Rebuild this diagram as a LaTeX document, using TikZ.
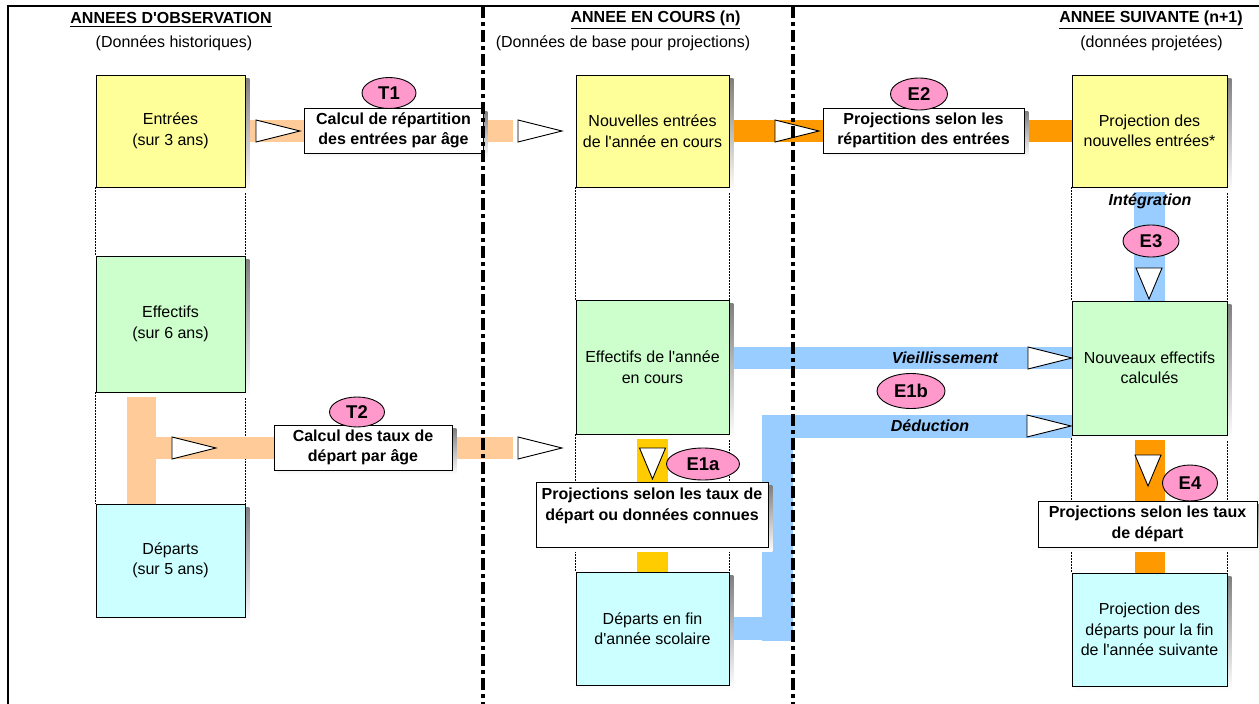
\documentclass[tikz,border=0pt]{standalone}
\usepackage{fontspec}
\setmainfont{Liberation Sans}
\usetikzlibrary{shapes.geometric}
\definecolor{boxyellow}{HTML}{FFFF99}
\definecolor{boxgreen}{HTML}{CCFFCC}
\definecolor{boxcyan}{HTML}{CCFFFF}
\definecolor{tagpink}{HTML}{FF99CC}
\definecolor{bandpeach}{HTML}{FFCC99}
\definecolor{bandorange}{HTML}{FF9900}
\definecolor{bandgold}{HTML}{FFCC00}
\definecolor{bandblue}{HTML}{99CCFF}
\definecolor{shade}{HTML}{808080}
\pgfdeclarelayer{bands}
\pgfdeclarelayer{shades}
\pgfsetlayers{bands,shades,main}
% straight apostrophe, bypassing the TeX quote mapping
\newcommand{\ap}{\XeTeXglyph\XeTeXcharglyph"0027\relax}
% heading with a thick underline
\newcommand{\hdrline}[1]{\vtop{\hbox{#1}\kern1.8pt\hrule height 1.6pt}}
\begin{document}
\begin{tikzpicture}[x=1pt,y=-1pt,
  databox/.style={draw=black, line width=0.9pt, align=center, inner sep=0pt,
    font=\fontsize{16}{20.5}\selectfont},
  procbox/.style={draw=black, fill=white, line width=0.9pt, align=center, inner sep=0pt,
    font=\bfseries\fontsize{16}{20.5}\selectfont},
  tag/.style={ellipse, draw=black, fill=tagpink, line width=0.9pt, inner sep=0pt,
    font=\bfseries\fontsize{18.5}{20}\selectfont},
  guide/.style={line width=1pt, dash pattern=on 1.5pt off 1.5pt},
  band/.style={line width=22pt},
  arrowtip/.style={draw=black, fill=white, line width=0.9pt, line join=miter},
  sep/.style={line width=3.5pt, dash pattern=on 12pt off 4pt on 4pt off 4pt},
  flowlabel/.style={font=\bfseries\itshape\fontsize{16}{20}\selectfont, inner sep=0pt},
  header/.style={font=\bfseries\fontsize{16}{20}\selectfont, inner sep=0pt},
  subhead/.style={font=\fontsize{16}{20}\selectfont, inner sep=0pt},
  rtri/.pic={\path[arrowtip] (0,-11) -- (44,0) -- (0,11) -- cycle;},
  dtri/.pic={\path[arrowtip] (-13,0) -- (13,0) -- (0,31) -- cycle;}
]
\useasboundingbox (0,0) rectangle (1259,704);

% frame
\draw[line width=2pt] (8,704) -- (8,6) -- (1259,6);

% column headings
\node[header] (hdA) at (171,20) {\hdrline{ANNEES D\ap OBSERVATION}};
\node[subhead] (subA) at (174,43) {(Données historiques)};
\node[header] (hdB) at (655.5,20) {\hdrline{ANNEE EN COURS (n)}};
\node[subhead] (subB) at (623,43) {(Données de base pour projections)};
\node[header] (hdC) at (1151,20) {\hdrline{ANNEE SUIVANTE (n+1)}};
\node[subhead] (subC) at (1151.5,43) {(données projetées)};

% data boxes
\node[databox, fill=boxyellow, minimum width=149pt, minimum height=112pt] (entH) at (170.5,131) {Entrées\\(sur 3 ans)};
\node[databox, fill=boxgreen, minimum width=149pt, minimum height=136pt] (effH) at (170.5,324) {Effectifs\\(sur 6 ans)};
\node[databox, fill=boxcyan, minimum width=149pt, minimum height=113pt] (depH) at (170.5,560.5) {Départs\\(sur 5 ans)};
\node[databox, fill=boxyellow, minimum width=153pt, minimum height=112pt] (entN) at (652.5,131) {Nouvelles entrées\\de l\ap année en cours};
\node[databox, fill=boxgreen, minimum width=153pt, minimum height=134pt] (effN) at (652.5,367) {Effectifs de l\ap année\\en cours};
\node[databox, fill=boxcyan, minimum width=153pt, minimum height=113pt] (depN) at (652.5,628.5) {Départs en fin\\d\ap année scolaire};
\node[databox, fill=boxyellow, minimum width=155pt, minimum height=112pt] (entP) at (1149.5,131) {Projection des\\nouvelles entrées*};
\node[databox, fill=boxgreen, minimum width=155pt, minimum height=134pt] (effP) at (1149.5,368) {Nouveaux effectifs\\calculés};
\node[databox, fill=boxcyan, minimum width=155pt, minimum height=113pt] (depP) at (1149.5,629.5) {Projection des\\départs pour la fin\\de l\ap année suivante};

% free ends of the flows
\coordinate (t1end) at (513,131);
\coordinate (t2knee) at (127,448);
\coordinate (t2end) at (513,448);
\coordinate (dedKnee) at (777.5,426);

\begin{pgfonlayer}{bands}
  % dotted column guides
  \foreach \a/\b in {entH/effH, effH/depH, entN/effN, effN/depN, entP/effP, effP/depP}{
    \draw[guide] (\a.south west) -- (\b.north west);
    \draw[guide] (\a.south east) -- (\b.north east);
  }
  % T1 and E2
  \draw[band, bandpeach] (entH.east) -- (t1end);
  \draw[band, bandorange] (entN.east) -- (entP.west);
  % T2
  \draw[band, bandpeach, line width=29pt] ([xshift=-29pt]effH.south) -- ([xshift=-29pt]depH.north);
  \draw[band, bandpeach] (t2knee) -- (t2end);
  % E3, E1a, E4
  \draw[band, bandblue, line width=31pt] (entP.south) -- (effP.north);
  \draw[band, bandgold, line width=31pt] (effN.south) -- (depN.north);
  \draw[band, bandorange, line width=30pt] (effP.south) -- (depP.north);
  % E1b: ageing and deduction
  \draw[band, bandblue] ([yshift=9pt]effN.east) -- ([yshift=10pt]effP.west);
  \draw[band, bandblue, line width=23pt] (depN.east) -| (dedKnee) -- ([yshift=-58pt]effP.west);
  \fill[bandblue] (762,415) rectangle (793,641);
\end{pgfonlayer}

% arrow heads
\pic at (256,131) {rtri};
\pic at (518,131) {rtri};
\pic at (775,131) {rtri};
\pic at (172,448) {rtri};
\pic at (518,448) {rtri};
\pic at (1028,358) {rtri};
\pic at (1027,426) {rtri};
\pic at (1149,268) {dtri};
\pic at (652.5,448) {dtri};
\pic at (1148,455) {dtri};

% flow labels
\node[flowlabel] (lblInt) at (1150,201) {Intégration};
\node[flowlabel] (lblVie) at (945,358) {Vieillissement};
\node[flowlabel] (lblDed) at (930,426) {Déduction};

% process boxes
\node[procbox, minimum width=179pt, minimum height=45pt] (t1box) at (393.5,130.5) {Calcul de répartition\\des entrées par âge};
\node[procbox, minimum width=201pt, minimum height=45pt] (e2box) at (923.5,130.5) {Projections selon les\\répartition des entrées};
\node[procbox, minimum width=178pt, minimum height=45pt] (t2box) at (363,447.5) {Calcul des taux de\\départ par âge};
\node[procbox, minimum width=232pt, minimum height=65pt] (e1abox) at (652,514.5) {Projections selon les taux de\\départ ou données connues\\\mbox{}};
\node[procbox, minimum width=219pt, minimum height=46pt] (e4box) at (1147.5,524) {Projections selon les taux\\de départ};

% drop shadows of all boxes, offset 4 right and 4 down
\begin{pgfonlayer}{shades}
  \foreach \n in {entH,effH,depH,entN,effN,depN,entP,effP,depP,t1box,e2box,t2box,e1abox,e4box}{
    \fill[shade] ([shift={(4,4)}]\n.south west) rectangle ([shift={(4,4)}]\n.north east);
  }
\end{pgfonlayer}

% step tags
\node[tag, minimum width=54pt, minimum height=31pt] (tagT1) at (389,93) {T1};
\node[tag, minimum width=57pt, minimum height=32pt] (tagE2) at (919,94) {E2};
\node[tag, minimum width=55pt, minimum height=30pt] (tagT2) at (357,412) {T2};
\node[tag, minimum width=56pt, minimum height=32pt] (tagE3) at (1151,241) {E3};
\node[tag, minimum width=68pt, minimum height=35pt] (tagE1b) at (911,391) {E1b};
\node[tag, minimum width=73pt, minimum height=32pt] (tagE1a) at (703,464) {E1a};
\node[tag, minimum width=55pt, minimum height=36pt] (tagE4) at (1190,483) {E4};

% period separators
\draw[sep] (483,6) -- (483,704);
\draw[sep] (793,6) -- (793,704);
\end{tikzpicture}
\end{document}
